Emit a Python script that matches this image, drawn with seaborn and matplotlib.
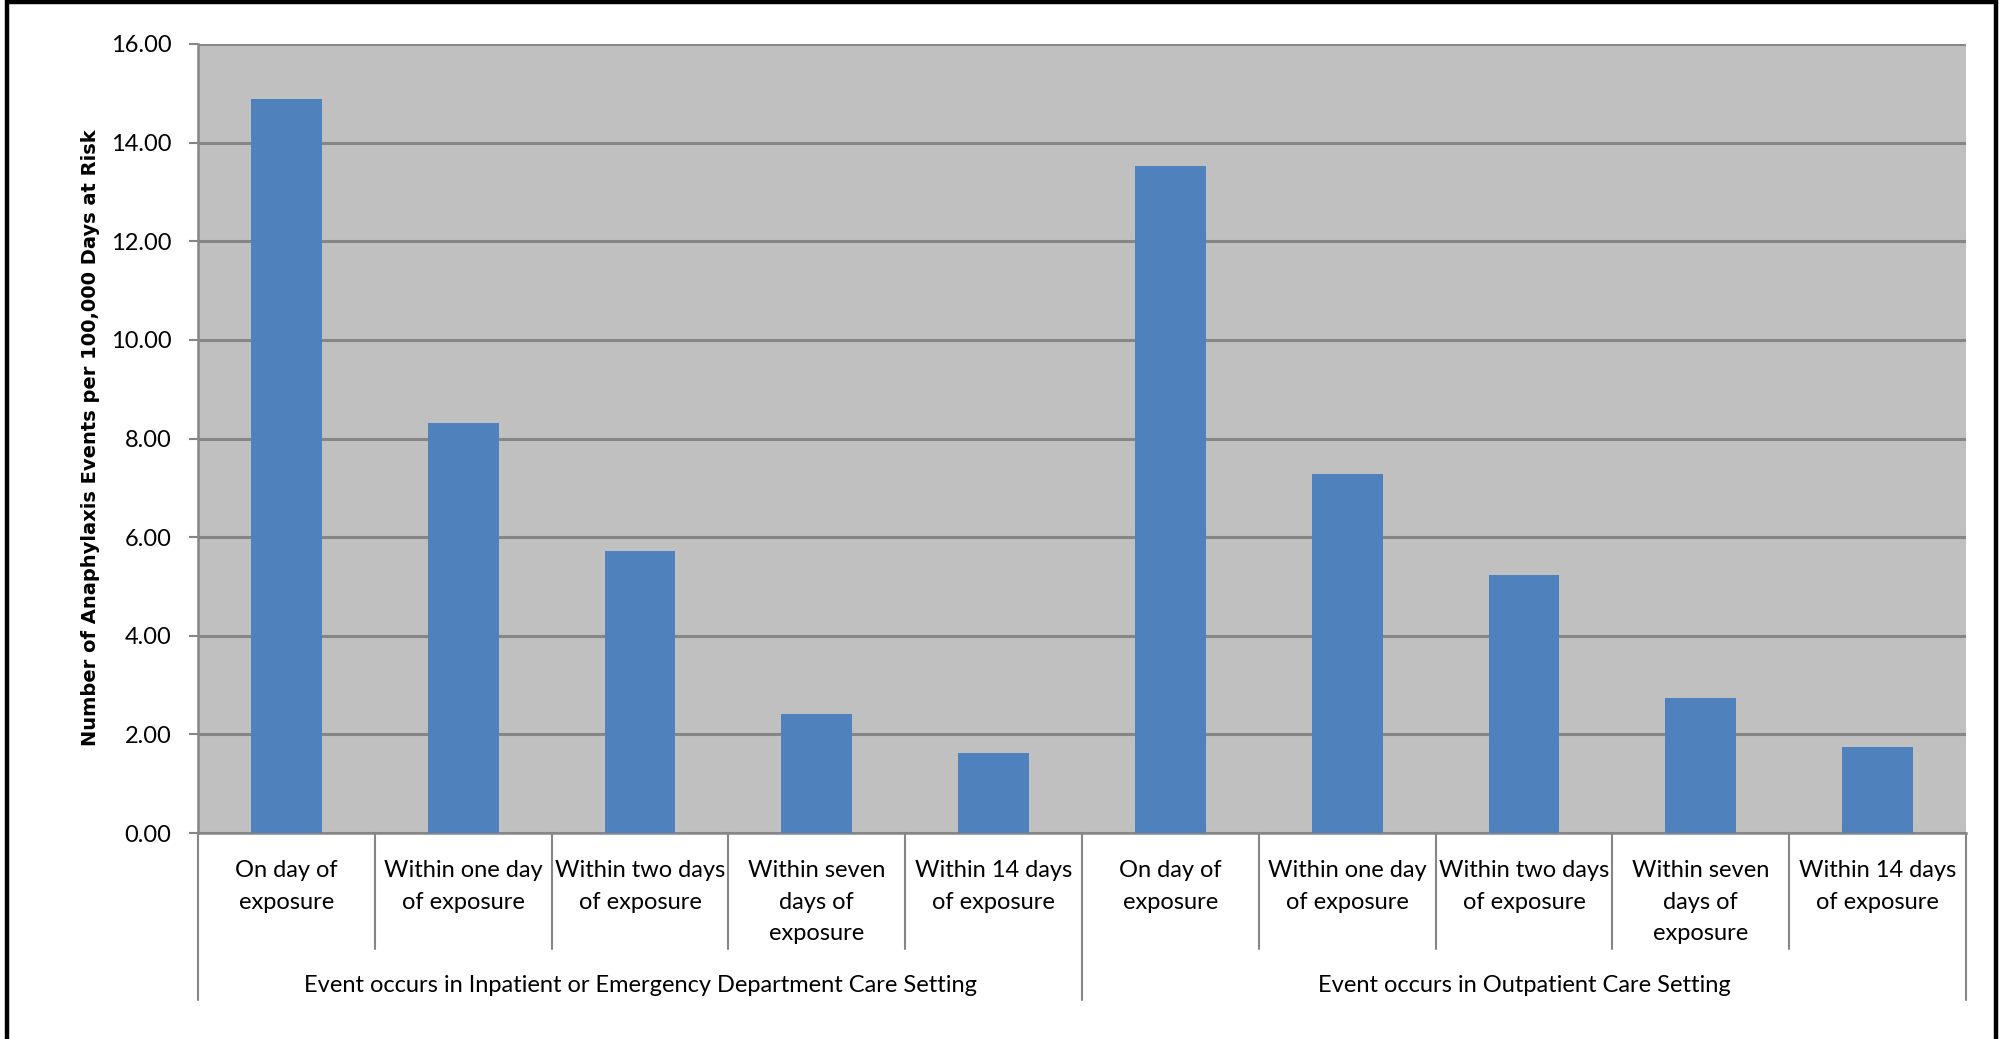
import matplotlib
matplotlib.use("Agg")
import matplotlib.pyplot as plt
import seaborn as sns
import pandas as pd
from matplotlib.transforms import blended_transform_factory
from matplotlib.lines import Line2D
from matplotlib.patches import Rectangle

# ---------------- data ----------------
groups = [
    "Event occurs in Inpatient or Emergency Department Care Setting",
    "Event occurs in Outpatient Care Setting",
]
windows = [
    "On day of\nexposure",
    "Within one day\nof exposure",
    "Within two days\nof exposure",
    "Within seven\ndays of\nexposure",
    "Within 14 days\nof exposure",
]
inpatient_values = [14.88, 8.32, 5.72, 2.42, 1.62]
outpatient_values = [13.52, 7.29, 5.23, 2.73, 1.75]
y_ticks = [0, 2, 4, 6, 8, 10, 12, 14, 16]
y_label = "Number of Anaphylaxis Events per 100,000 Days at Risk"

# ---------------- style ----------------
sns.set_theme(style="white")
plt.rcParams["font.family"] = ["Lato", "DejaVu Sans"]

W, H = 2003, 1039
fig = plt.figure(figsize=(W / 100, H / 100), dpi=100)
fig.patch.set_facecolor("white")

ax_left, ax_right, ax_top, ax_bottom = 198, 1966, 44, 833
ax = fig.add_axes([ax_left / W, 1 - ax_bottom / H,
                   (ax_right - ax_left) / W, (ax_bottom - ax_top) / H])

all_groups = [groups[0]] * len(windows) + [groups[1]] * len(windows)
all_windows = windows + windows
slots = [f"{g}|{w}" for g, w in zip(all_groups, all_windows)]
df = pd.DataFrame({"slot": slots, "value": inpatient_values + outpatient_values})

sns.barplot(data=df, x="slot", y="value", order=slots, color="#4F81BD",
            saturation=1, width=0.4, ax=ax, errorbar=None, zorder=3,
            linewidth=0, edgecolor="#4F81BD")

grid_col = "#868686"
ax.set_facecolor("#C0C0C0")
ax.set_xlim(-0.5, len(slots) - 0.5)
ax.set_ylim(0, 16)
ax.set_yticks(y_ticks)
ax.set_yticklabels([f"{v:.2f}" for v in y_ticks])
ax.yaxis.grid(True, color=grid_col, linewidth=2.2, zorder=1)
ax.xaxis.grid(False)
ax.set_axisbelow(True)
for s in ["top", "right"]:
    ax.spines[s].set_visible(False)
for s in ["left", "bottom"]:
    ax.spines[s].set_color(grid_col)
    ax.spines[s].set_linewidth(1.8)
ax.tick_params(axis="y", which="major", left=True, length=6.5, width=1.5,
               color=grid_col, pad=12.5, labelsize=17, labelcolor="black")
ax.set_xticks([])
ax.set_xlabel("")
ax.set_ylabel("")

trans = blended_transform_factory(ax.transData, ax.transAxes)
ax_h = ax_bottom - ax_top
y_cat_text = -(860 - ax_bottom) / ax_h
y_cat_sep = -(949 - ax_bottom) / ax_h
y_grp_text = -(986 - ax_bottom) / ax_h
y_grp_sep = -(1000 - ax_bottom) / ax_h

for i, w in enumerate(all_windows):
    ax.text(i, y_cat_text, w, transform=trans, ha="center", va="top",
            fontsize=17, linespacing=1.62, color="black")

n = len(windows)
for i in range(len(slots) + 1):
    xpos = i - 0.5
    low = y_grp_sep if i % n == 0 else y_cat_sep
    ax.add_line(Line2D([xpos, xpos], [0, low], transform=trans, color=grid_col,
                       linewidth=1.5, clip_on=False))

for gi, g in enumerate(groups):
    center = gi * n + (n - 1) / 2
    ax.text(center, y_grp_text, g, transform=trans, ha="center", va="center",
            fontsize=17, color="black")

fig.text(91 / W, 1 - 438 / H, y_label, rotation=90, ha="center", va="center",
         fontsize=14.0, fontweight="bold", family=["DejaVu Sans"], color="black")

# outer black frame
fig.patches.append(Rectangle((7 / W, -0.01), (1996 - 7) / W, 1 - (-0.01) - 2 / H,
                             transform=fig.transFigure, fill=False,
                             edgecolor="black", linewidth=3.2))

fig.savefig("out.png", dpi=100, facecolor="white")
